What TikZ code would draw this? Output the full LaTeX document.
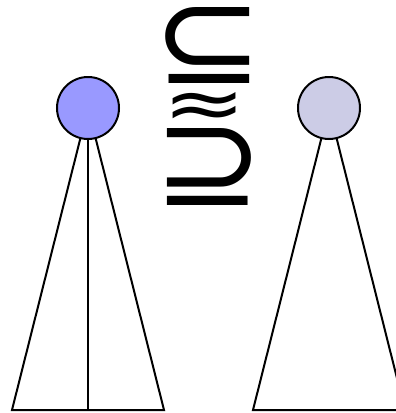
\documentclass[tikz,border=0pt]{standalone}
\usepackage{fontspec}
\newfontfamily\symfont{DejaVu Sans}
\usepackage{xcolor}
\usetikzlibrary{positioning}
\definecolor{rootA}{RGB}{153,153,255}
\definecolor{rootB}{RGB}{204,204,230}
\newcommand{\relsym}[3]{\resizebox*{#1}{#2}{\symfont #3}}

\begin{document}
\begin{tikzpicture}[
  x=1pt, y=-1pt,
  line width=2pt,
  root/.style={circle, draw, line width=2pt, minimum size=62pt, inner sep=0pt},
  rel/.style={inner sep=0pt}
]
\useasboundingbox (0,0) rectangle (396,413);
\clip (0,0) rectangle (396,413);
\coordinate (topA) at (88,108);
\coordinate (topB) at (329,108);
\coordinate (leftA) at (12,410);
\coordinate (rightA) at (164,410);
\coordinate (midA) at (88,410);
\coordinate (leftB) at (253,410);
\coordinate (rightB) at (405,410);
\draw (topA) -- (leftA) -- (rightA) -- cycle;
\draw (topA) -- (midA);
\draw (topB) -- (leftB) -- (rightB) -- cycle;
\node[root, fill=rootA] (rootA) at (topA) {};
\node[root, fill=rootB] (rootB) at (topB) {};
\node[rel] (subeq) at (209,45) {\relsym{110pt}{76pt}{⊆}};
\node[rel] (approx) at (205,110) {\relsym{84pt}{36pt}{≈}};
\node[rel] (supeq) at (209,166.5) {\relsym{110pt}{77pt}{⊇}};
\end{tikzpicture}
\end{document}
